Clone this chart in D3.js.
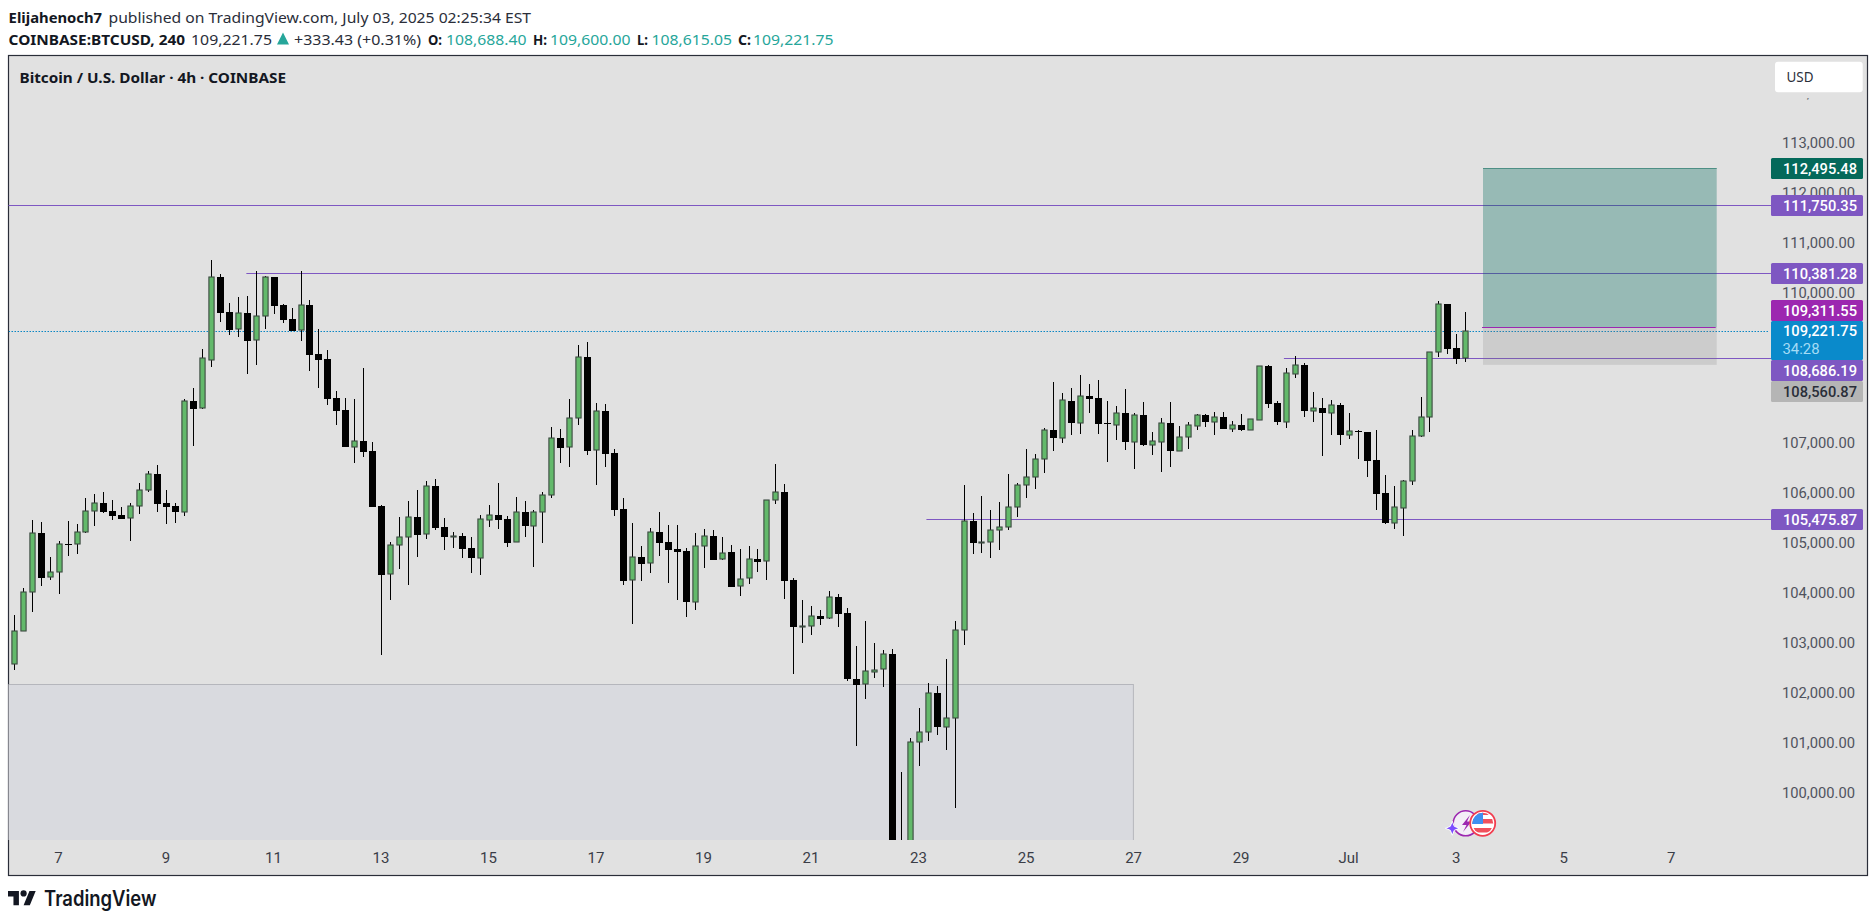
<!DOCTYPE html>
<html><head><meta charset="utf-8">
<script src="https://cdn.jsdelivr.net/npm/d3@7"></script>
<style>html,body{margin:0;padding:0;background:#fff;overflow:hidden}svg{display:block}
.ax text{font-family:Roboto,"Noto Sans",sans-serif}</style>
</head><body><svg id="c" width="1876" height="922"></svg>
<script>
const highs=[103548,104081,105448,105408,104708,105021,105428,105368,105888,105968,
106008,105848,105708,105781,106181,106428,106548,106048,105781,107861,
108081,108868,110648,110368,109788,109908,109928,110428,110328,110301,
109761,109681,110428,109848,109268,108848,108028,107888,107868,108488,
107008,105741,105001,105508,105821,106048,106221,106268,105488,105208,
105181,105101,105541,105748,106188,105528,105908,105828,105641,106001,
107308,107268,107868,108948,109008,107788,107768,106861,105888,105388,
104928,105281,105608,105348,105348,104881,105181,105268,105248,105108,
104948,104868,104928,104868,105841,106568,106168,104281,103848,103728,
103648,104028,103961,103681,102928,103428,102988,102848,102861,100401,
101081,101688,102181,102121,102661,103421,106148,105581,105921,105648,
105801,106368,106181,106868,106768,107281,108201,107988,108088,108348,
108168,108248,107828,107728,108068,107581,107808,107208,107488,107808,
107328,107408,107568,107568,107608,107608,107428,107568,107461,108528,
108548,107828,108488,108728,108581,108008,107888,107841,107781,107588,
107241,107208,107248,106348,106128,106248,107248,107908,108801,109828,
109768,109168,109600];
const lows=[102448,103221,103615,104135,104255,103975,104735,104775,105195,105335,
105595,105455,105475,105035,105575,106015,105615,105375,105395,105535,
106935,107675,108515,109415,109155,109115,108375,108555,109275,109575,
109395,109221,109035,108435,108095,107755,107355,106915,106595,106715,
105715,102755,103855,104475,104155,104715,105075,105255,104855,104888,
104695,104395,104355,105315,105275,104915,105001,105115,104515,104995,
105895,106595,106515,107355,106755,106155,106515,105535,104155,103375,
104235,104395,104735,104195,103855,103515,103655,104495,104655,104655,
104115,103935,104175,104415,104255,105775,103875,102375,102995,103155,
103355,103475,103315,102235,100935,101875,102295,102115,98700,98300,
98400,100535,101035,101155,100855,99695,102955,104775,104795,104695,
104855,105255,105515,105895,106075,106395,106835,106995,107155,107175,
107595,107175,106615,107055,106855,106475,106928,106748,106415,106515,
106835,106875,107255,107315,107155,107275,107215,107235,107255,107455,
107688,107355,107295,108295,107515,107408,106728,107155,106955,107075,
106675,106315,105655,105375,105275,105135,106148,107115,107215,108708,
108775,108575,108615.05];
const opens=[102568,103221,104001,105181,104301,104401,104968,104961,105201,105621,
105781,105621,105541,105481,105721,106041,106361,105781,105721,105615,
107821,107681,108641,110301,109601,109261,109581,109041,109521,110301,
109741,109461,109241,109741,108761,108661,107881,107641,106915,107021,
106821,105721,104361,104941,105101,105501,105161,106121,105301,105115,
105128,104881,104695,105455,105541,105461,105001,105601,105335,105601,
105941,107081,106901,107481,108701,106841,107621,106781,105661,104241,
104701,104581,105201,105001,104861,104821,103815,104921,105121,104661,
104801,104121,104281,104661,104621,105841,106001,104241,103315,103321,
103521,103481,103901,103581,102261,102161,102415,102461,102761,98800,
98600,101001,101201,101981,101315,101481,103241,105421,104995,105001,
105241,105301,105701,106141,106301,106661,107241,107095,107821,107395,
107921,107881,107388,107355,107581,107015,107541,106955,107015,107381,
106835,107115,107335,107541,107415,107501,107275,107341,107255,107455,
108521,107781,107415,108375,108541,107635,107681,107595,107741,107155,
107221,107208,106641,105981,105395,105695,106221,107121,107501,108801,
109768,108881,108688.40];
const closes=[103221,104001,105181,104295,104401,104961,104955,105201,105621,105781,
105615,105535,105475,105721,106041,106361,105775,105715,105615,107821,
107675,108681,110301,109595,109255,109581,109035,109521,110301,109735,
109455,109235,109741,108755,108655,107875,107635,106915,107021,106815,
105715,104355,104941,105101,105501,105155,106121,105295,105115,105121,
104875,104695,105461,105541,105455,104995,105601,105335,105601,105941,
107081,106895,107481,108701,106835,107621,106775,105655,104235,104701,
104575,105201,104995,104855,104815,103815,104921,105121,104655,104795,
104115,104261,104661,104615,105841,106001,104235,103315,103321,103521,
103475,103901,103575,102275,102155,102421,102455,102761,98900,98600,
101001,101201,101981,101315,101481,103241,105421,104995,105008,105241,
105301,105701,106141,106301,106661,107241,107095,107841,107395,107921,
107875,107375,107375,107581,107015,107541,106955,107021,107381,106835,
107101,107341,107541,107415,107501,107275,107341,107255,107461,108521,
107775,107415,108381,108541,107635,107681,107595,107741,107155,107221,
107215,106635,105975,105395,105701,106221,107121,107501,108801,109761,
108875,108675,109221.75];

const priceTicks=[114000,113000,112000,111000,110000,107000,106000,105000,104000,103000,102000,101000,100000];
const timeTickBars=[5,17,29,41,53,65,77,89,101,113,125,137,149,161,173,185];
const timeTickLabels=["7","9","11","13","15","17","19","21","23","25","27","29","Jul","3","5","7"];
const levelPrices=[111750.35,110381.28,108686.19,105475.87];
const levelStartBars=[-1,25.9,141.7,101.8];
const levelLabels=["111,750.35","110,381.28","108,686.19","105,475.87"];
const lastPrice=109221.75, targetPrice=112495.48, entryPrice=109311.55, stopPrice=108560.87;
const zoneTopPrice=102160, zoneEndBar=124.9;

const W=1876,H=922,PL=8.5,PR=1867.5,PT=55.5,PB=875.5,PANE=840;
const C={bg:"#e1e1e1",up:"#63b96b",upB:"#3c4a41",dn:"#000",purple:"#7e57c2"};
const x=d3.scaleLinear().domain([0,162]).range([14.3,1465.8]);
const y=d3.scaleLinear().domain([113000,100000]).range([142.4,792.4]);
const svg=d3.select("#c");
const defs=svg.append("defs");
defs.append("clipPath").attr("id","pane").append("rect").attr("x",PL).attr("y",PT).attr("width",PR-PL).attr("height",PANE-PT);
defs.append("clipPath").attr("id","ycl").append("rect").attr("x",-120).attr("y",98).attr("width",160).attr("height",800);

function txt(g,s,xx,yy,len,o={}){
  return g.append("text").attr("x",xx).attr("y",yy).attr("dominant-baseline","central")
   .attr("font-family",o.f||'"Noto Sans",sans-serif').attr("font-size",o.s||15)
   .attr("font-weight",o.w||400).attr("fill",o.c||"#131722")
   .attr("textLength",len).attr("lengthAdjust","spacingAndGlyphs").attr("text-anchor",o.a||"start").text(s);
}
// page header
const head=svg.append("g");
txt(head,"Elijahenoch7",8.6,16.5,93.5,{w:700});
txt(head,"published on TradingView.com, July 03, 2025 02:25:34 EST",108.5,16.5,422.5,{c:"#2a2e39"});
txt(head,"COINBASE:BTCUSD, 240",8.6,38.5,176.5,{w:700});
txt(head,"109,221.75",191,38.5,81,{c:"#2a2e39"});
head.append("path").attr("d","M277 44.5 L283 32.5 L289 44.5 Z").attr("fill","#26a69a");
txt(head,"+333.43 (+0.31%)",294,38.5,127,{c:"#2a2e39"});
[["O:",428,14,"108,688.40",446,80.5],["H:",533,14,"109,600.00",550,80.5],["L:",637,11,"108,615.05",651.5,80.5],["C:",738,13,"109,221.75",753,80.5]].forEach(r=>{
  txt(head,r[0],r[1],38.5,r[2],{w:700});
  txt(head,r[3],r[4],38.5,r[5],{c:"#26a69a"});
});
// pane
svg.append("rect").attr("x",PL).attr("y",PT).attr("width",PR-PL).attr("height",PB-PT).attr("fill",C.bg).attr("stroke","#2a2e39").attr("stroke-width",1.2);

const pane=svg.append("g").attr("clip-path","url(#pane)");
// supply zone
pane.append("rect").attr("x",PL).attr("y",Math.round(y(zoneTopPrice))+.5).attr("width",x(zoneEndBar)-PL)
 .attr("height",900).attr("fill","#d9dadf").attr("stroke","#b5b6bc").attr("stroke-width",1);

// horizontal levels
pane.append("line").attr("x1",PL).attr("x2",1768).attr("y1",Math.round(y(lastPrice))+.5).attr("y2",Math.round(y(lastPrice))+.5)
 .attr("stroke","#0a86c4").attr("stroke-width",1).attr("stroke-dasharray","1.5 1.5");
const over=svg.append("g");
over.selectAll("line.lv").data(levelPrices).join("line").attr("class","lv")
 .attr("x1",(d,i)=>Math.max(PL,x(levelStartBars[i]))).attr("x2",1771)
 .attr("y1",d=>Math.round(y(d))+.5).attr("y2",d=>Math.round(y(d))+.5)
 .attr("stroke",C.purple).attr("stroke-width",1);

// candles
const bars=d3.range(opens.length).map(i=>({i,o:opens[i],h:highs[i],l:lows[i],c:closes[i]}));
const cg=svg.append("g").attr("clip-path","url(#pane)");
const cx=d=>Math.floor(x(d.i))+.5;
const up=d=>d.c>=d.o;
const tp=d=>Math.round(y(Math.max(d.o,d.c)));
const bt=d=>Math.round(y(Math.min(d.o,d.c)));
cg.selectAll("line.w").data(bars).join("line").attr("class","w")
 .attr("x1",cx).attr("x2",cx).attr("y1",d=>y(d.h)).attr("y2",d=>y(d.l))
 .attr("stroke","#000").attr("stroke-width",1).attr("shape-rendering","crispEdges");
cg.selectAll("rect.b").data(bars).join("rect").attr("class","b")
 .attr("x",d=>cx(d)-(up(d)?2.6:3.5))
 .attr("width",d=>up(d)?5.2:7)
 .attr("y",tp)
 .attr("height",d=>Math.max(up(d)?0:1,bt(d)-tp(d)))
 .attr("fill",d=>up(d)?C.up:C.dn)
 .attr("stroke",d=>up(d)?C.upB:"none").attr("stroke-width",1.1);

// long-position tool
const tX=1483,tW=233.7;
over.append("rect").attr("x",tX).attr("y",y(targetPrice)+.6).attr("width",tW).attr("height",y(entryPrice)-y(targetPrice)-.1).attr("fill","rgba(0,105,92,.33)");
over.append("rect").attr("x",tX).attr("y",y(entryPrice)+.5).attr("width",tW).attr("height",y(stopPrice)-y(entryPrice)).attr("fill","rgba(120,120,120,.2)");
over.append("line").attr("x1",tX).attr("x2",tX+tW).attr("y1",Math.round(y(targetPrice))+.5).attr("y2",Math.round(y(targetPrice))+.5).attr("stroke","#4e8f85").attr("stroke-width",1);
over.append("line").attr("x1",tX-1).attr("x2",tX+tW-1).attr("y1",Math.round(y(entryPrice))+.5).attr("y2",Math.round(y(entryPrice))+.5).attr("stroke","#9c27b0").attr("stroke-width",1);

// price axis
const yAxis=d3.axisRight(y).tickValues(priceTicks).tickSize(0).tickPadding(0).tickFormat(d=>d3.format(",.2f")(d));
const ya=svg.append("g").attr("class","ax").attr("transform","translate(1855,0.3)").attr("clip-path","url(#ycl)").call(yAxis);
ya.select(".domain").remove();
ya.selectAll("text").attr("text-anchor","end").attr("x",0).attr("fill","#50535e").attr("font-size",15)
  .attr("font-family","Roboto,sans-serif").attr("textLength",73).attr("lengthAdjust","spacingAndGlyphs");

// time axis
const xAxis=d3.axisBottom(x).tickValues(timeTickBars).tickSize(0).tickPadding(0).tickFormat(d=>timeTickLabels[timeTickBars.indexOf(d)]);
const xa=svg.append("g").attr("class","ax").attr("transform","translate(-1.2,852)").call(xAxis);
xa.select(".domain").remove();
xa.selectAll("text").attr("fill","#3a3d47").attr("font-size",15).attr("font-family",'"Noto Sans",sans-serif');

// price tags
const tagG=svg.append("g");
function tag(top,h,bg,fg,t,cy){
  tagG.append("rect").attr("x",1771).attr("y",top).attr("width",92).attr("height",h).attr("rx",1.5).attr("fill",bg);
  txt(tagG,t,1783,cy,74,{f:"Roboto,sans-serif",s:15.5,c:fg,w:500});
}
[[targetPrice,"112,495.48","#04695a"],[levelPrices[0],levelLabels[0],C.purple],[levelPrices[1],levelLabels[1],C.purple],[levelPrices[3],levelLabels[3],C.purple]]
 .forEach(d=>{const c=Math.round(y(d[0]))+.5;tag(c-10.5,21,d[2],"#fff",d[1],c);});
tag(300,21,"#9c27b0","#fff","109,311.55",310.5);
tag(360,21,C.purple,"#fff",levelLabels[2],370.5);
tag(381,21,"#b5b5b5","#2a2e39","108,560.87",391.5);
tag(321,39,"#0a8acb","#fff","109,221.75",331);
txt(tagG,"34:28",1782.5,349,37,{f:"Roboto,sans-serif",s:15,c:"#a5dcf5"});

// USD button
svg.append("rect").attr("x",1775).attr("y",61.7).attr("width",87.7).attr("height",30.6).attr("rx",3).attr("fill","#fff");
txt(svg,"USD",1786.5,76.5,27,{s:14,c:"#2a2e39"});

// chart title
txt(svg,"Bitcoin / U.S. Dollar · 4h · COINBASE",19.5,76.7,266.5,{w:700});

// event icons
const ic=svg.append("g");
ic.append("circle").attr("cx",1465.7).attr("cy",823.3).attr("r",12.5).attr("fill","#f3eef7").attr("stroke","#9c27b0").attr("stroke-width",1.6);
ic.append("path").attr("d","M1470 815 L1462 825 L1466.5 825 L1463 832 L1471.5 821.5 L1467 821.5 Z").attr("fill","#9c27b0");
ic.append("path").attr("d","M1452.3 821.3 L1454.3 826.3 L1459.3 828.3 L1454.3 830.3 L1452.3 835.3 L1450.3 830.3 L1445.3 828.3 L1450.3 826.3 Z").attr("fill","#7c4dff").attr("stroke","#fff").attr("stroke-width",1);
ic.append("clipPath").attr("id","fl").append("circle").attr("cx",1482.7).attr("cy",823.3).attr("r",10.5);
ic.append("circle").attr("cx",1482.7).attr("cy",823.3).attr("r",12.5).attr("fill","#fff").attr("stroke","#f23d4f").attr("stroke-width",1.8);
const fl=ic.append("g").attr("clip-path","url(#fl)");
fl.append("rect").attr("x",1472).attr("y",812).attr("width",22).attr("height",24).attr("fill","#fff");
fl.append("rect").attr("x",1472).attr("y",819).attr("width",22).attr("height",4.5).attr("fill","#f0505c");
fl.append("rect").attr("x",1472).attr("y",828).attr("width",22).attr("height",4.5).attr("fill","#f0505c");
fl.append("rect").attr("x",1472).attr("y",812).attr("width",22).attr("height",3).attr("fill","#f0505c");
fl.append("rect").attr("x",1472).attr("y",812).attr("width",11).attr("height",12).attr("fill","#3f8ff0");

// logo
const lg=svg.append("g").attr("transform","translate(8,888) scale(.78)").attr("fill","#131722");
lg.append("path").attr("d","M14 22H7V11H0V4h14v18zM28 22h-8l7.5-18h8L28 22z");
lg.append("circle").attr("cx",20).attr("cy",7).attr("r",4);
txt(svg,"TradingView",44,898.5,112.5,{f:"Inter,Roboto,sans-serif",s:21,w:600});
</script></body></html>
